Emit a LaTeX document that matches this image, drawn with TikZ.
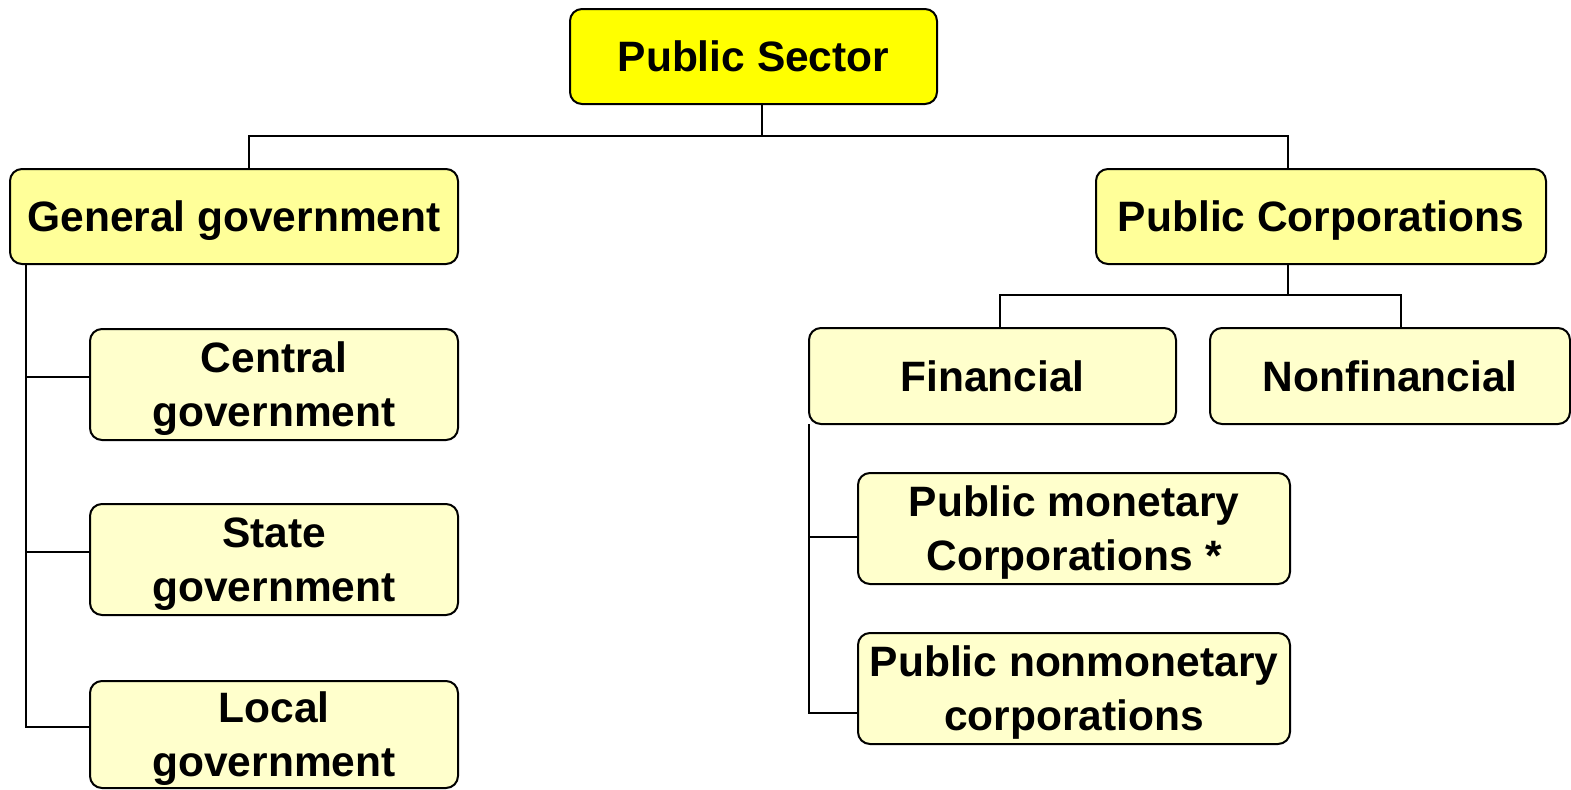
\documentclass[tikz,border=0pt]{standalone}
\usepackage{fontspec}
\setmainfont{Liberation Sans}
\usepackage{tikz}
\usetikzlibrary{positioning}
\definecolor{topyellow}{HTML}{FFFF00}
\definecolor{midyellow}{HTML}{FFFF99}
\definecolor{lowyellow}{HTML}{FFFFCC}
\tikzset{
  orgnode/.style = {align=center, inner sep=0pt, outer sep=0pt, rectangle,
    rounded corners=6pt, draw=black, line width=1pt, text=black, text depth=0pt,
    font=\fontsize{21.25}{27}\selectfont\bfseries},
  org_a/.style = {orgnode, fill=topyellow},% secteur public
  org_b/.style = {orgnode, fill=midyellow, minimum height=47.5pt},% niveau 2
  org_c/.style = {orgnode, fill=lowyellow}% niveau 3
}

\begin{document}
\begin{tikzpicture}[x=0.5pt,y=-0.5pt,line width=1pt]
        \useasboundingbox (0,0) rectangle (1571,789);
        \node [org_a, minimum width=183.5pt, minimum height=47.5pt] (PS) at (753.5,56.5) {Public Sector};
        \node [org_b, minimum width=224pt] (GG) at (234,216.5) {General government};
        \node [org_b, minimum width=225pt] (PC) at (1321,216.5) {Public Corporations};

        \node [org_c, minimum width=183.5pt, minimum height=48pt] (Fin) at (992.5,376) {Financial};
        \node [org_c, minimum width=180pt, minimum height=48pt, right= 17pt of Fin] (NonFin) {Nonfinancial};

        \node [org_c, minimum width=184pt, minimum height=55.5pt] (Cen) at (274,384.5) {Central\\government};
        \node [org_c, minimum width=184pt, minimum height=55.5pt, below= 32pt of Cen] (Sta) {State\\government};
        \node [org_c, minimum width=184pt, minimum height=53.5pt, below= 33pt of Sta] (Loc) {Local\\government};

        \node [org_c, minimum width=216pt, minimum height=55.5pt] (PMon) at (1074,528.5) {Public monetary\\Corporations *};
        \node [org_c, minimum width=216pt, minimum height=55.5pt, below= 24.5pt of PMon] (PNon) {Public nonmonetary\\corporations};

        \draw ([xshift=4.25pt]PS.south) -- ++(0,31.5) -| ([xshift=7.5pt]GG.north);
        \draw ([xshift=4.25pt]PS.south) -- ++(0,31.5) -| ([xshift=-16.5pt]PC.north);
        \draw ([xshift=-16.5pt]PC.south) -- ++(0,31) -| ([xshift=3.75pt]Fin.north);
        \draw ([xshift=-16.5pt]PC.south) -- ++(0,31) -| ([xshift=5.5pt]NonFin.north);

        \draw ([xshift=8pt]GG.south west) |- ([yshift=4pt]Cen.west);
        \draw ([xshift=8pt]GG.south west) |- ([yshift=4pt]Sta.west);
        \draw ([xshift=8pt]GG.south west) |- ([yshift=4pt]Loc.west);

        \draw (Fin.south west) |- ([yshift=-4.25pt]PMon.west);
        \draw (Fin.south west) |- ([yshift=-12.25pt]PNon.west);

        \end{tikzpicture}
\end{document}
